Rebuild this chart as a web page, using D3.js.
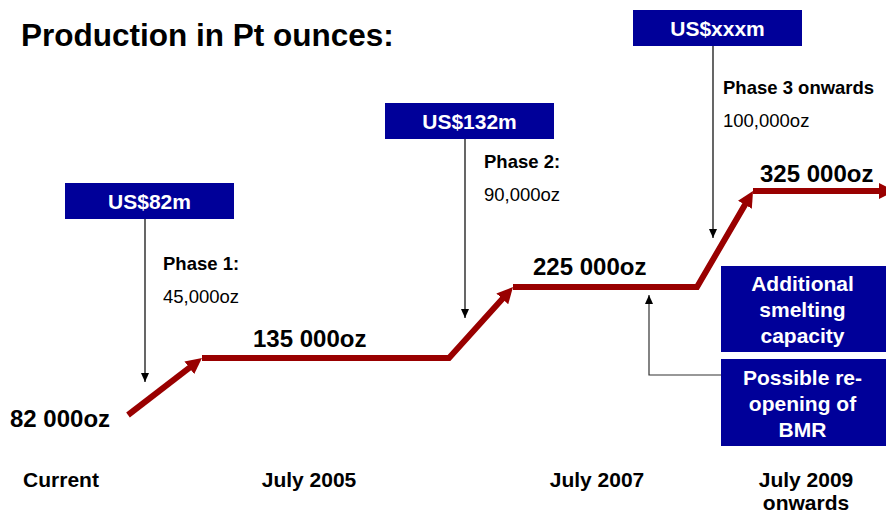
<!DOCTYPE html>
<html>
<head>
<meta charset="utf-8">
<script src="https://cdn.jsdelivr.net/npm/d3@7"></script>
<style>
  html, body { margin: 0; padding: 0; background: #fff; }
  svg { display: block; font-family: "Liberation Sans", Arial, Helvetica, sans-serif; }
</style>
</head>
<body>
<svg id="chart" width="886" height="515"></svg>
<script>
// ---------------- data ----------------
const title = "Production in Pt ounces:";
const levels = [82000, 135000, 225000, 325000];
const levelLabels = ["82 000oz", "135 000oz", "225 000oz", "325 000oz"];
const periods = [["Current"], ["July 2005"], ["July 2007"], ["July 2009", "onwards"]];
const phaseNames = ["Phase 1:", "Phase 2:", "Phase 3 onwards"];
const phaseAdds = ["45,000oz", "90,000oz", "100,000oz"];
const capex = ["US$82m", "US$132m", "US$xxxm"];
const notes = [["Additional", "smelting", "capacity"], ["Possible re-", "opening of", "BMR"]];

// ---------------- layout ----------------
const W = 886, H = 515;
const RED = "#990000", BLUE = "#000099";
const periodX = [61, 309, 597, 806];          // centres of the period labels
const levelY = [415, 358, 287, 191];          // vertical position of each production level
const stepX = [[128, 128], [202, 449], [513, 697], [753, 880]]; // flat segment of each step
const levelLabelX = [10, 253, 533, 760];
const levelLabelDy = [12, -11, -12, -9];
const capexBox = [{x: 65, y: 183}, {x: 385, y: 103}, {x: 633, y: 10}];
const boxW = 169, boxH = 36;
const capexArrowEnd = [382, 318, 238];
const phaseX = [163, 484, 723];
const phaseY = [270, 168, 94];
const noteBox = [{x: 721, y: 266, h: 86}, {x: 721, y: 359, h: 87}];

const svg = d3.select("#chart");

const x = d3.scaleLinear().domain(d3.range(periods.length)).range(periodX);
const y = d3.scaleLinear().domain(levels).range(levelY);

// markers
const defs = svg.append("defs");
defs.append("marker")
  .attr("id", "redHead").attr("markerUnits", "userSpaceOnUse")
  .attr("viewBox", "0 -8 16 16").attr("refX", 4).attr("refY", 0)
  .attr("markerWidth", 16).attr("markerHeight", 16).attr("orient", "auto")
  .append("path").attr("d", "M0,-8L16,0L0,8Z").attr("fill", RED);
defs.append("marker")
  .attr("id", "blackHead").attr("markerUnits", "userSpaceOnUse")
  .attr("viewBox", "0 -4 9 8").attr("refX", 9).attr("refY", 0)
  .attr("markerWidth", 9).attr("markerHeight", 8).attr("orient", "auto")
  .append("path").attr("d", "M0,-4L9,0L0,4Z").attr("fill", "#000");

// title
svg.append("text")
  .attr("x", 21).attr("y", 46)
  .attr("font-size", 31.5).attr("font-weight", "bold").attr("fill", "#000")
  .text(title);

// ---------------- production staircase ----------------
function shorten(p, q, d) {
  const dx = q[0] - p[0], dy = q[1] - p[1];
  const L = Math.hypot(dx, dy);
  return [q[0] - dx / L * d, q[1] - dy / L * d];
}
const line = d3.line();
levels.forEach((v, i) => {
  const yy = y(v);
  const pts = [[stepX[i][0], yy], [stepX[i][1], yy]];
  let end;
  if (i < levels.length - 1) {
    const tip = [stepX[i + 1][0], y(levels[i + 1])];
    end = shorten(pts[1], tip, 12);
    pts.push(end);
    if (i === 0) pts.splice(1, 1);
  } else {
    pts[1] = [stepX[i][1] + 3, yy];
  }
  svg.append("path")
    .attr("d", line(pts))
    .attr("fill", "none").attr("stroke", RED).attr("stroke-width", 6)
    .attr("stroke-linejoin", "miter")
    .attr("marker-end", "url(#redHead)");
});

// level labels
svg.selectAll("text.level").data(levelLabels).join("text")
  .attr("class", "level")
  .attr("x", (d, i) => levelLabelX[i])
  .attr("y", (d, i) => y(levels[i]) + levelLabelDy[i])
  .attr("font-size", 24).attr("font-weight", "bold").attr("fill", "#000")
  .text(d => d);

// ---------------- capex boxes and phases ----------------
capex.forEach((c, i) => {
  const b = capexBox[i];
  svg.append("rect").attr("x", b.x).attr("y", b.y).attr("width", boxW).attr("height", boxH).attr("fill", BLUE);
  svg.append("text")
    .attr("x", b.x + boxW / 2).attr("y", b.y + boxH / 2 + 7.5)
    .attr("text-anchor", "middle").attr("font-size", 21).attr("font-weight", "bold").attr("fill", "#fff")
    .text(c);
  const ax = b.x + 80;
  svg.append("line")
    .attr("x1", ax).attr("y1", b.y + boxH).attr("x2", ax).attr("y2", capexArrowEnd[i])
    .attr("stroke", "#000").attr("stroke-width", 1.2)
    .attr("marker-end", "url(#blackHead)");
  svg.append("text")
    .attr("x", phaseX[i]).attr("y", phaseY[i])
    .attr("font-size", 18.5).attr("font-weight", "bold").attr("fill", "#000")
    .text(phaseNames[i]);
  svg.append("text")
    .attr("x", phaseX[i]).attr("y", phaseY[i] + 33)
    .attr("font-size", 18.5).attr("fill", "#000")
    .text(phaseAdds[i]);
});

// ---------------- note boxes ----------------
notes.forEach((n, i) => {
  const b = noteBox[i];
  svg.append("rect").attr("x", b.x).attr("y", b.y).attr("width", W - b.x).attr("height", b.h).attr("fill", BLUE);
  const cx = b.x + (W - b.x) / 2 - 1, cy = b.y + b.h / 2 + 8;
  const t = svg.append("text")
    .attr("text-anchor", "middle").attr("font-size", 21).attr("font-weight", "bold").attr("fill", "#fff");
  n.forEach((s, k) => {
    t.append("tspan").attr("x", cx).attr("y", cy + (k - 1) * 26).text(s);
  });
});

// elbow arrow from second note box to the July 2007 level
svg.append("path")
  .attr("d", line([[noteBox[1].x, 375], [649, 375], [649, y(levels[2]) + 8]]))
  .attr("fill", "none").attr("stroke", "#333").attr("stroke-width", 1.2)
  .attr("marker-end", "url(#blackHead)");

// ---------------- period labels ----------------
periods.forEach((p, i) => {
  const t = svg.append("text")
    .attr("text-anchor", "middle").attr("font-size", 21).attr("font-weight", "bold").attr("fill", "#000");
  p.forEach((s, k) => {
    t.append("tspan").attr("x", x(i)).attr("y", 487 + k * 23).text(s);
  });
});
</script>
</body>
</html>
